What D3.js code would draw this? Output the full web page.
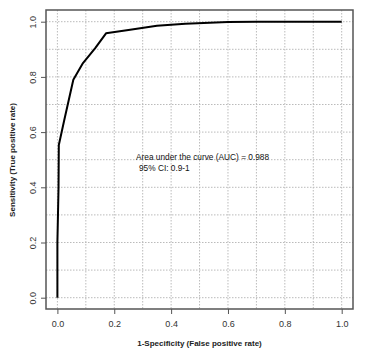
<!DOCTYPE html>
<html><head><meta charset="utf-8">
<script src="https://cdn.jsdelivr.net/npm/d3@7"></script>
<style>body{margin:0;background:#fff}svg{display:block}text{font-family:"Liberation Sans",Arial,sans-serif}</style>
</head><body><svg id="c" width="365" height="353"></svg>
<script>
const fpr = [0, 0, 0.002, 0.004, 0.005, 0.024, 0.056, 0.09, 0.133, 0.171, 0.25, 0.35, 0.45, 0.6, 0.7, 1];
const tpr = [0, 0.2, 0.3, 0.4, 0.553, 0.643, 0.79, 0.85, 0.904, 0.958, 0.97, 0.985, 0.993, 0.999, 1, 1];
const tickVals = [0, 0.2, 0.4, 0.6, 0.8, 1.0];
const gridVals = [0, 0.1, 0.2, 0.3, 0.4, 0.5, 0.6, 0.7, 0.8, 0.9, 1.0];
const aucText = "Area under the curve (AUC) = 0.988";
const ciText = "95% CI: 0.9-1";

const svg = d3.select("#c");
const box = {l: 46, r: 353, t: 10, b: 309};
const x = d3.scaleLinear().domain([0, 1]).range([57.4, 341.7]);
const y = d3.scaleLinear().domain([0, 1]).range([297.7, 21.7]);

// grid
const g = svg.append("g");
g.selectAll(".vg").data(gridVals).join("line")
  .attr("x1", d => x(d)).attr("x2", d => x(d)).attr("y1", box.t).attr("y2", box.b)
  .attr("stroke", "#bbb").attr("stroke-width", 1).attr("stroke-dasharray", "1.5,1.5");
g.selectAll(".hg").data(gridVals).join("line")
  .attr("y1", d => y(d)).attr("y2", d => y(d)).attr("x1", box.l).attr("x2", box.r)
  .attr("stroke", "#bbb").attr("stroke-width", 1).attr("stroke-dasharray", "1.5,1.5");

// curve
const line = d3.line().x((d, i) => x(fpr[i])).y((d, i) => y(tpr[i]));
svg.append("path").datum(fpr).attr("d", line)
  .attr("fill", "none").attr("stroke", "#000").attr("stroke-width", 2).attr("stroke-linejoin", "round");

// box
svg.append("rect").attr("x", box.l).attr("y", box.t).attr("width", box.r - box.l).attr("height", box.b - box.t)
  .attr("fill", "none").attr("stroke", "#555").attr("stroke-width", 1.5);

// axes
const xAxis = d3.axisBottom(x).tickValues(tickVals).tickFormat(d3.format(".1f")).tickSize(5).tickSizeOuter(0);
const xg = svg.append("g").attr("transform", `translate(0,${box.b})`).call(xAxis);
xg.select(".domain").remove();
xg.selectAll("line").attr("stroke", "#555");
xg.selectAll("text").attr("font-size", 9).attr("fill", "#333").attr("dy", "1.1em");

const yAxis = d3.axisLeft(y).tickValues(tickVals).tickFormat(d3.format(".1f")).tickSize(5).tickSizeOuter(0);
const yg = svg.append("g").attr("transform", `translate(${box.l},0)`).call(yAxis);
yg.select(".domain").remove();
yg.selectAll("line").attr("stroke", "#555");
yg.selectAll("text").attr("font-size", 9).attr("fill", "#333")
  .attr("x", null).attr("dy", null)
  .attr("text-anchor", "middle")
  .attr("transform", "translate(-10,0) rotate(-90)");

// titles
svg.append("text").attr("x", 199.5).attr("y", 346).attr("text-anchor", "middle")
  .attr("font-size", 8).attr("font-weight", "bold").attr("fill", "#222")
  .text("1-Specificity (False positive rate)");
svg.append("text").attr("transform", "translate(15,160) rotate(-90)").attr("text-anchor", "middle")
  .attr("font-size", 8).attr("font-weight", "bold").attr("fill", "#222")
  .text("Sensitivity (True positive rate)");

// annotation
svg.append("text").attr("x", 136).attr("y", 160).attr("font-size", 8.3).attr("fill", "#111").text(aucText);
svg.append("text").attr("x", 139).attr("y", 171).attr("font-size", 8.3).attr("fill", "#111").text(ciText);
</script></body></html>
